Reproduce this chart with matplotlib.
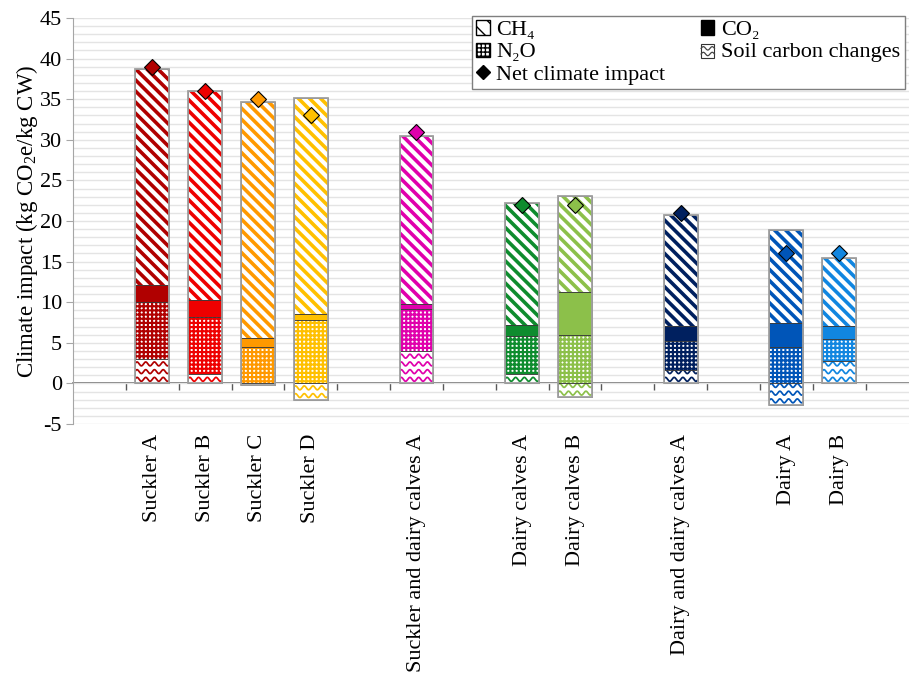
import numpy as np
import matplotlib
matplotlib.use("Agg")
import matplotlib.pyplot as plt
from matplotlib.patches import Patch, Rectangle
from matplotlib.lines import Line2D
from matplotlib.legend_handler import HandlerBase
from matplotlib.ticker import MultipleLocator

plt.rcParams['font.family'] = ['Liberation Serif', 'DejaVu Serif']
plt.rcParams['mathtext.fontset'] = 'custom'
plt.rcParams['mathtext.rm'] = 'Liberation Serif'
plt.rcParams['mathtext.it'] = 'Liberation Serif:italic'
plt.rcParams['axes.unicode_minus'] = False
plt.rcParams['font.size'] = 16

# Production systems, grouped (a blank slot separates the groups)
groups = [
    ["Suckler A", "Suckler B", "Suckler C", "Suckler D"],
    ["Suckler and dairy calves A"],
    ["Dairy calves A", "Dairy calves B"],
    ["Dairy and dairy calves A"],
    ["Dairy A", "Dairy B"],
]

# Emission components, kg CO2e per kg carcass weight
soil = [3.0, 1.1, -0.15, -2.0, 3.95, 1.2, -1.7, 1.7, -2.65, 2.75]
n2o = [7.0, 7.1, 4.5, 7.85, 5.25, 4.6, 5.9, 3.5, 4.5, 2.75]
co2 = [2.1, 2.1, 1.05, 0.75, 0.6, 1.45, 5.4, 1.9, 2.9, 1.6]
ch4 = [26.6, 25.7, 29.05, 26.6, 20.7, 15.0, 11.8, 13.6, 11.5, 8.4]
net = [39.0, 36.0, 35.0, 33.0, 31.0, 22.0, 22.0, 21.0, 16.0, 16.0]

colors = ['#B00000', '#EE0000', '#FF9900', '#FFC000', '#E000AC',
          '#0E8C2E', '#8CC04A', '#00205F', '#0055B8', '#1186E0']

# slot positions: one empty slot at the start and between groups
labels, xpos = [], []
slot = 1
for g in groups:
    for name in g:
        labels.append(name)
        xpos.append(slot)
        slot += 1
    slot += 1

fig = plt.figure(figsize=(9.09, 6.78), dpi=100)
ax = fig.add_axes([73 / 909, 1 - 424 / 678, (909 - 73) / 909, (424 - 18) / 678])
ymin, ymax = -5, 45
ax.set_ylim(ymin, ymax)
ax.set_xlim(-0.5, 15.32)

W = 0.64
STRIPE_LW = 2.6
DOT_LW = 1.55


def hatched(x, h, b, color, face, hatch, lw):
    with plt.rc_context({'hatch.linewidth': lw}):
        bars = ax.bar(x, h, W, bottom=b, facecolor=face, edgecolor=color,
                      hatch=hatch, linewidth=0, zorder=2)
    return bars[0]


def waves(patch, color, x, y0, y1):
    # wavy soil-carbon texture, clipped to the bar segment
    xs = np.linspace(x - W / 2, x + W / 2, 300)
    lam, amp = 0.165, 0.24
    yc = y0 + 0.5
    while yc - amp < y1:
        line, = ax.plot(xs, yc + amp * np.sin(2 * np.pi * (xs - x) / lam),
                        color=color, lw=1.25, zorder=3, solid_capstyle='butt')
        line.set_clip_path(patch)
        yc += 0.95


for i, x in enumerate(xpos):
    c = colors[i]
    s = soil[i]
    if s >= 0:
        s0, s1 = 0.0, s
        base = s
    else:
        s0, s1 = s, 0.0
        base = 0.0
    segs = []
    p = ax.bar(x, s1 - s0, W, bottom=s0, facecolor='white', linewidth=0, zorder=2)[0]
    waves(p, c, x, s0, s1)
    segs.append((s0, s1 - s0))
    hatched(x, n2o[i], base, c, 'white', '++++', DOT_LW)
    segs.append((base, n2o[i]))
    b = base + n2o[i]
    ax.bar(x, co2[i], W, bottom=b, facecolor=c, linewidth=0, zorder=2)
    segs.append((b, co2[i]))
    b += co2[i]
    hatched(x, ch4[i], b, c, 'white', '\\\\\\', STRIPE_LW)
    segs.append((b, ch4[i]))
    top = b + ch4[i]
    for bot, h in segs:
        ax.bar(x, h, W, bottom=bot, fill=False, edgecolor='#3A3A3A', linewidth=0.5, zorder=4)
    ax.bar(x, top - s0, W, bottom=s0, fill=False, edgecolor='#A0A0A0', linewidth=1.3, zorder=4)
    ax.plot(x, net[i], marker='D', markersize=8.3, mfc=c, mec='black', mew=0.8,
            linestyle='none', zorder=6, clip_on=False)

# axes styling
ax.set_yticks(range(ymin, ymax + 1, 5))
ax.yaxis.set_minor_locator(MultipleLocator(1))
ax.grid(which='both', axis='y', color='#E4E4E4', linewidth=1.0)
ax.set_axisbelow(True)
ax.tick_params(axis='y', which='major', length=5, color='#A6A6A6', pad=3)
ax.tick_params(axis='y', which='minor', length=0)
for side in ['top', 'right', 'bottom']:
    ax.spines[side].set_visible(False)
ax.spines['left'].set_color('#A6A6A6')

ax.set_xticks(xpos, labels, rotation=90)
ax.tick_params(axis='x', length=0, pad=7)

# zero line with category separators
zero = ax.secondary_xaxis((0 - ymin) / (ymax - ymin))
zero.set_xticks(np.arange(0.5, 15, 1))
zero.tick_params(length=5, direction='out', labelbottom=False, color='#595959', width=1)
zero.spines['bottom'].set_color('#595959')
zero.spines['bottom'].set_linewidth(1.1)

ax.set_ylabel('Climate impact (kg CO$_2$e/kg CW)', fontsize=16.5, labelpad=0)


class WaveHandler(HandlerBase):
    def create_artists(self, legend, orig_handle, xd, yd, width, height, fontsize, trans):
        box = Rectangle((xd, yd), width, height, facecolor='white',
                        edgecolor='#333333', lw=0.8, transform=trans)
        xs = np.linspace(xd, xd + width, 40)
        arts = [box]
        for k in (0.3, 0.7):
            ys = yd + k * height + 0.12 * height * np.sin(2 * np.pi * (xs - xd) / (width / 1.5))
            arts.append(Line2D(xs, ys, color='#444444', lw=0.9, transform=trans))
        return arts


soil_handle = Patch(facecolor='white')
with plt.rc_context({'hatch.linewidth': 1.6}):
    h_ch4 = Patch(facecolor='white', edgecolor='black', hatch='\\\\')
    h_n2o = Patch(facecolor='white', edgecolor='black', hatch='++++')
    h_co2 = Patch(facecolor='black', edgecolor='black')
h_net = Line2D([], [], marker='D', color='black', linestyle='none', markersize=7)

leg = ax.legend([h_ch4, h_n2o, h_net, h_co2, soil_handle],
                ['CH\u2084', 'N\u2082O', 'Net climate impact', 'CO\u2082', 'Soil carbon changes'],
                ncol=2, loc='upper left', bbox_to_anchor=(472 / 909, 1 - 16 / 678),
                bbox_transform=fig.transFigure, fancybox=False, framealpha=1,
                edgecolor='#7F7F7F', handlelength=0.6, handleheight=0.6,
                handletextpad=0.3, labelspacing=0.1, columnspacing=1.6,
                borderpad=0.2, borderaxespad=0, fontsize=16,
                handler_map={soil_handle: WaveHandler()})
leg.get_frame().set_linewidth(1.0)
leg.set_zorder(10)

fig.savefig('out.png', dpi=100)
